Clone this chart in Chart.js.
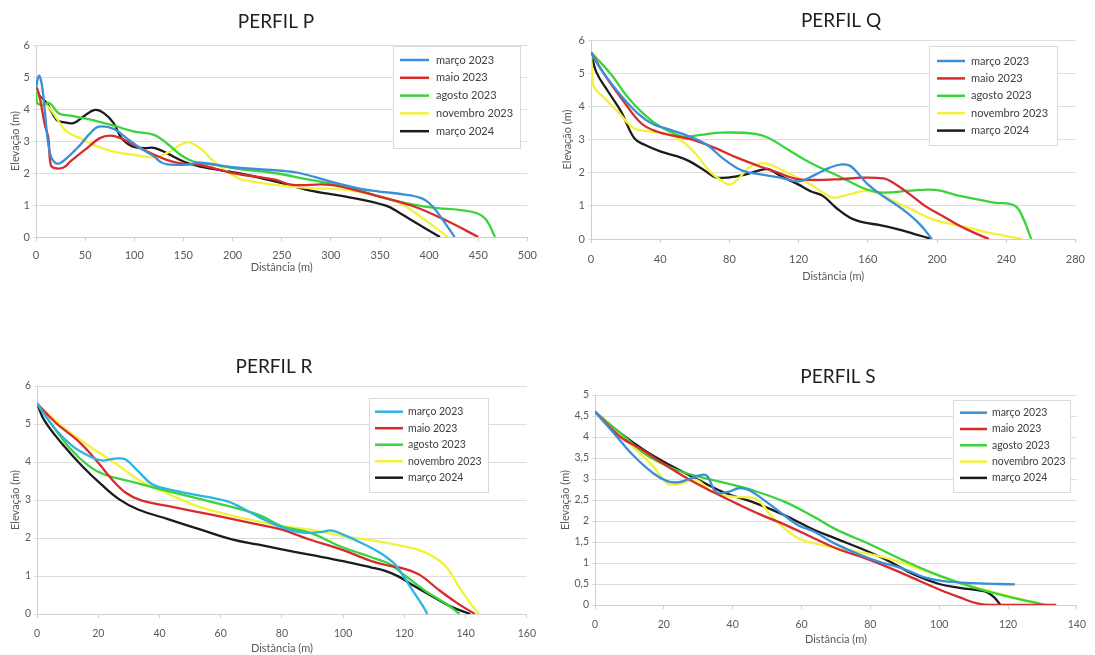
<!DOCTYPE html>
<html>
<head>
<meta charset="utf-8">
<script src="https://cdn.jsdelivr.net/npm/chart.js@4.4.0/dist/chart.umd.min.js"></script>
<style>
  body { margin: 0; background: #fff; width: 1095px; height: 655px; overflow: hidden; position: relative; }
  canvas { position: absolute; }
</style>
</head>
<body>
<canvas id="chartP" width="545" height="280" style="left:0;top:0"></canvas>
<canvas id="chartQ" width="550" height="290" style="left:545px;top:0"></canvas>
<canvas id="chartR" width="545" height="310" style="left:0;top:345px"></canvas>
<canvas id="chartS" width="550" height="310" style="left:545px;top:345px"></canvas>
<script>
// survey dates, one line per campaign
const SERIES_LABELS = ['março 2023', 'maio 2023', 'agosto 2023', 'novembro 2023', 'março 2024'];

// [distância (m), elevação (m)]
const P_MAR23 = [[0,4.65],[3,5.04],[6,4.75],[9,3.92],[12.6,2.88],[16,2.46],[22,2.29],[31,2.46],[45,2.88],[55,3.24],[64,3.45],[79,3.38],[92,3.09],[106,2.78],[120,2.52],[127,2.34],[134,2.27],[154,2.26],[167,2.32],[200,2.18],[250,2.07],[268,2.0],[299,1.74],[331,1.5],[349,1.42],[377,1.32],[395,1.17],[405,0.9],[416,0.44],[426,0]];
const P_MAI23 = [[0,4.67],[1,4.65],[4,4.33],[9,3.5],[12.6,3.09],[15,2.26],[19.4,2.15],[28,2.17],[35,2.36],[52,2.78],[65,3.09],[75.5,3.17],[86,3.09],[99,2.88],[113,2.67],[133,2.41],[147,2.3],[167,2.25],[200,2.0],[243,1.79],[261,1.63],[299,1.63],[331,1.42],[349,1.27],[384,0.96],[419,0.49],[450,0]];
const P_AGO23 = [[0,4.54],[1,4.2],[6,4.13],[14,4.18],[23,3.87],[35,3.79],[52,3.69],[79,3.48],[99,3.3],[120,3.19],[133,2.93],[147,2.57],[160,2.36],[181,2.26],[205,2.13],[243,2.0],[278,1.79],[314,1.58],[349,1.27],[384,1.01],[409,0.9],[430,0.85],[448,0.75],[458,0.54],[467,0]];
const P_NOV23 = [[0,4.6],[4,4.33],[14,4.02],[21,3.71],[31,3.3],[45,3.09],[58.5,2.88],[79,2.67],[99,2.57],[120,2.49],[133,2.62],[147,2.88],[155,2.96],[167,2.78],[181,2.36],[205,1.84],[215,1.76],[243,1.63],[278,1.53],[314,1.48],[349,1.27],[370,1.06],[391,0.64],[419,0]];
const P_MAR24 = [[0,4.67],[4,4.39],[11,4.18],[21,3.66],[28,3.59],[38,3.56],[48,3.76],[60,3.97],[69,3.87],[79,3.56],[87,3.09],[98,2.83],[110,2.78],[121,2.78],[133,2.62],[150,2.36],[167,2.2],[205,2.0],[243,1.74],[278,1.46],[314,1.27],[356,0.98],[370,0.75],[384,0.49],[411,0]];

const Q_MAR23 = [[0,5.63],[4,5.25],[15.5,4.44],[27,3.79],[36,3.46],[46,3.29],[57,3.09],[67,2.84],[76,2.44],[87.5,2.06],[99,1.94],[110,1.84],[120,1.74],[130,1.95],[138,2.15],[145,2.25],[150,2.2],[160,1.65],[170,1.25],[180,0.9],[190,0.45],[197,0]];
const Q_MAI23 = [[0,5.63],[8,4.94],[19,4.14],[29,3.49],[38,3.24],[50,3.09],[59,2.99],[72,2.74],[84,2.46],[95,2.24],[106,2.04],[118,1.82],[127,1.78],[143,1.8],[157,1.85],[169,1.83],[173,1.75],[183,1.4],[193,1.0],[203,0.7],[213,0.4],[221,0.2],[230,0]];
const Q_AGO23 = [[0,5.63],[12,4.94],[21,4.29],[31,3.74],[40,3.39],[53,3.09],[63,3.14],[76,3.21],[95,3.17],[103,3.04],[114,2.69],[127,2.29],[143,1.9],[159,1.5],[169,1.4],[183,1.45],[199,1.48],[213,1.3],[233,1.1],[245,1.0],[250,0.6],[253,0.2],[254.5,0]];
const Q_NOV23 = [[0,5.63],[1.3,4.64],[8,4.24],[15.5,3.84],[25,3.34],[34.5,3.24],[46,3.14],[53,2.94],[61,2.54],[68.6,2.04],[76,1.74],[80,1.64],[85.6,1.84],[91,2.14],[99,2.29],[106,2.19],[114,1.99],[127,1.64],[134,1.4],[140,1.25],[146,1.3],[158,1.45],[165,1.4],[173,1.2],[185,0.9],[197,0.6],[213,0.4],[229,0.2],[249,0]];
const Q_MAR24 = [[0,5.63],[3,5.04],[10,4.44],[17.4,3.84],[25,3.04],[31,2.84],[40,2.64],[50,2.49],[57,2.34],[65,2.09],[72,1.86],[80,1.86],[89,1.94],[99,2.09],[103,2.1],[110,1.89],[120,1.64],[127,1.44],[134,1.3],[141.5,0.95],[149.5,0.65],[157.5,0.5],[167,0.42],[177,0.3],[187,0.15],[197,0]];

const R_MAR23 = [[0,5.54],[6,4.86],[11.6,4.42],[17,4.16],[21,4.04],[25.6,4.09],[28.8,4.07],[33,3.76],[37.4,3.43],[43,3.28],[51,3.15],[62,2.97],[67,2.79],[73,2.53],[80,2.28],[87,2.14],[93,2.16],[96,2.2],[100,2.09],[107,1.83],[112,1.61],[117,1.3],[120,0.95],[123.6,0.51],[126.4,0.16],[127.5,0]];
const R_MAI23 = [[0,5.54],[6,5.04],[14,4.51],[20,3.98],[24.5,3.54],[29,3.19],[34,2.99],[43,2.84],[51,2.71],[62,2.53],[72,2.36],[80,2.22],[89,1.96],[100,1.68],[109,1.4],[115,1.27],[120,1.19],[125,1.03],[131,0.65],[137,0.3],[143,0]];
const R_AGO23 = [[0,5.54],[4,5.08],[10.5,4.38],[17,3.89],[22,3.67],[30,3.5],[38.5,3.32],[47,3.15],[58,2.93],[72,2.62],[80,2.31],[89,2.14],[100,1.75],[109,1.5],[115,1.32],[120,1.02],[127,0.6],[134,0.25],[138,0]];
const R_NOV23 = [[0,5.54],[8,4.95],[17,4.42],[26,3.94],[33,3.54],[41,3.23],[51,2.88],[62,2.62],[72,2.44],[80,2.31],[89,2.22],[100,2.05],[111,1.92],[120,1.78],[126,1.65],[130,1.48],[134,1.21],[138,0.69],[141.5,0.29],[144.3,0]];
const R_MAR24 = [[0,5.54],[2.5,5.08],[8.4,4.46],[14.8,3.89],[21,3.41],[27,3.01],[33,2.75],[43,2.49],[53.5,2.22],[64,1.96],[72,1.83],[80,1.7],[89,1.56],[100,1.39],[109,1.23],[113.5,1.14],[118,0.99],[122.5,0.77],[129,0.47],[135,0.2],[141.5,0]];

const S_MAR23 = [[0,4.6],[5.5,4.09],[11,3.57],[17,3.13],[21,2.95],[24,2.92],[27.4,3.0],[31,3.1],[32.7,3.06],[34.6,2.74],[36,2.66],[39,2.7],[41.7,2.78],[44.6,2.74],[48.4,2.54],[53,2.26],[59,1.9],[63.6,1.75],[70,1.45],[80,1.1],[90,0.85],[96,0.65],[102,0.56],[110,0.52],[122,0.49]];
const S_MAI23 = [[0,4.6],[7.4,4.0],[13,3.73],[19,3.41],[26.5,3.03],[34,2.7],[41,2.42],[48.4,2.14],[55,1.92],[63.6,1.59],[70,1.35],[80,1.07],[90,0.73],[100,0.37],[106,0.18],[111,0.04],[116,0],[134,0]];
const S_AGO23 = [[0,4.6],[7.4,4.09],[15,3.57],[22.7,3.25],[30,3.06],[38,2.9],[45.5,2.74],[55,2.46],[63.6,2.1],[70,1.8],[80,1.44],[90,1.05],[100,0.7],[110,0.42],[120,0.2],[131,0]];
const S_NOV23 = [[0,4.6],[5.5,4.2],[12,3.69],[17,3.29],[20.8,2.9],[22.7,2.86],[25.5,2.9],[29.3,2.98],[34,2.7],[40,2.58],[44.6,2.56],[47.4,2.5],[51,2.14],[54,1.9],[59,1.59],[63.6,1.47],[70,1.36],[80,1.21],[86,1.09],[96,0.81],[106,0.53],[116,0.3],[130.5,0]];
const S_MAR24 = [[0,4.6],[7.4,4.09],[15,3.65],[22.7,3.29],[30,2.98],[38,2.66],[45.5,2.46],[55,2.14],[63.6,1.79],[70,1.58],[80,1.25],[86,1.02],[92,0.75],[100,0.5],[106,0.41],[112,0.34],[114,0.3],[116,0.18],[117.8,0]];

const COLORS = ['#3b8ed8', '#d92b2b', '#3ad43a', '#f2f23c', '#1c1c1c'];
const COLORS_R = ['#2cb5e0', '#d92b2b', '#3ad43a', '#f2f23c', '#1c1c1c'];

Chart.defaults.font.family = 'Lato, "Open Sans", sans-serif';
Chart.defaults.color = '#595959';

// title + boxed legend drawn inside the plot, Excel style
const panelDecor = {
  id: 'panelDecor',
  afterDatasetsDraw(chart, args, o) {
    const ctx = chart.ctx;
    const lg = o.legend;
    ctx.save();
    ctx.fillStyle = '#fff';
    ctx.fillRect(lg.x, lg.y, lg.w, lg.h);
    ctx.strokeStyle = '#d9d9d9';
    ctx.lineWidth = 1;
    ctx.strokeRect(lg.x + 0.5, lg.y + 0.5, lg.w, lg.h);
    ctx.font = lg.font + 'px Lato';
    ctx.textBaseline = 'middle';
    ctx.textAlign = 'left';
    chart.data.datasets.forEach((ds, i) => {
      const y = lg.y + lg.first + i * lg.step;
      ctx.strokeStyle = ds.borderColor;
      ctx.lineWidth = 2.5;
      ctx.beginPath();
      ctx.moveTo(lg.lineX, y);
      ctx.lineTo(lg.lineX + lg.lineW, y);
      ctx.stroke();
      ctx.fillStyle = '#404040';
      ctx.fillText(ds.label, lg.textX, y);
    });
    ctx.font = '19px Lato';
    ctx.textAlign = 'center';
    ctx.fillStyle = '#1f1f1f';
    ctx.fillText(o.title, o.titleX, o.titleY);
    ctx.restore();
  }
};

// everything below in page pixels
const PANELS = [
  {id: 'chartP', box: {l: 0, t: 0, w: 545, h: 280}, area: {l: 36, t: 45, r: 531, b: 237},
   title: 'PERFIL P', titleX: 276, titleY: 22, xMax: 500, xStep: 50, yMax: 6, yStep: 1,
   xTitleY: 267, yTitleX: 15, xLabelGap: 8, font: 11, colors: COLORS,
   series: [P_MAR23, P_MAI23, P_AGO23, P_NOV23, P_MAR24],
   legend: {x: 393, y: 46, w: 127, h: 102, lineX: 400, lineW: 29, textX: 436, first: 14, step: 17.8, font: 11}},
  {id: 'chartQ', box: {l: 545, t: 0, w: 550, h: 290}, area: {l: 591, t: 40, r: 1082, b: 239},
   title: 'PERFIL Q', titleX: 841, titleY: 21, xMax: 280, xStep: 40, yMax: 6, yStep: 1,
   xTitleY: 276, yTitleX: 567, xLabelGap: 10, font: 11, colors: COLORS,
   series: [Q_MAR23, Q_MAI23, Q_AGO23, Q_NOV23, Q_MAR24],
   legend: {x: 929, y: 46, w: 128, h: 99, lineX: 937, lineW: 28, textX: 971, first: 15, step: 17.4, font: 11}},
  {id: 'chartR', box: {l: 0, t: 345, w: 545, h: 310}, area: {l: 37, t: 386, r: 531, b: 614},
   title: 'PERFIL R', titleX: 274, titleY: 367, xMax: 160, xStep: 20, yMax: 6, yStep: 1,
   xTitleY: 648, yTitleX: 15, xLabelGap: 9, font: 10.5, colors: COLORS_R,
   series: [R_MAR23, R_MAI23, R_AGO23, R_NOV23, R_MAR24],
   legend: {x: 369, y: 398, w: 119, h: 94, lineX: 375, lineW: 28, textX: 408, first: 13.7, step: 16.5, font: 10.5}},
  {id: 'chartS', box: {l: 545, t: 345, w: 550, h: 310}, area: {l: 595, t: 395, r: 1084, b: 605},
   title: 'PERFIL S', titleX: 838, titleY: 377, xMax: 140, xStep: 20, yMax: 5, yStep: 0.5,
   xTitleY: 639, yTitleX: 565, xLabelGap: 9, font: 10.5, colors: COLORS,
   series: [S_MAR23, S_MAI23, S_AGO23, S_NOV23, S_MAR24],
   legend: {x: 953, y: 400, w: 117, h: 92, lineX: 960, lineW: 27, textX: 992, first: 12.7, step: 16.3, font: 10.5}}
];

function buildPanel(p) {
  const b = p.box;
  const datasets = p.series.map((pts, i) => ({
    label: SERIES_LABELS[i],
    data: pts.map(([x, y]) => ({x, y})),
    borderColor: p.colors[i],
    backgroundColor: p.colors[i],
    borderWidth: 2.3,
    pointRadius: 0,
    showLine: true,
    tension: 0.4,
    fill: false
  }));
  const lg = p.legend;
  const xAxisH = b.h - (p.area.b - b.t);
  const yAxisW = p.area.l - b.l;
  new Chart(document.getElementById(p.id), {
    type: 'scatter',
    data: {datasets},
    plugins: [panelDecor],
    options: {
      responsive: false,
      animation: false,
      layout: {padding: {top: p.area.t - b.t, right: b.l + b.w - p.area.r, left: 0, bottom: 0}},
      plugins: {
        legend: {display: false},
        tooltip: {enabled: false},
        panelDecor: {
          title: p.title, titleX: p.titleX - b.l, titleY: p.titleY - b.t,
          legend: {x: lg.x - b.l, y: lg.y - b.t, w: lg.w, h: lg.h, lineX: lg.lineX - b.l, lineW: lg.lineW,
                   textX: lg.textX - b.l, first: lg.first, step: lg.step, font: lg.font}
        }
      },
      scales: {
        x: {
          type: 'linear', min: 0, max: p.xMax,
          afterFit: s => { s.height = xAxisH; },
          ticks: {stepSize: p.xStep, autoSkip: false, maxRotation: 0, padding: p.xLabelGap, font: {size: p.font}},
          grid: {drawOnChartArea: false, drawTicks: true, tickLength: 4, color: '#d0d0d0'},
          border: {color: '#cfcfcf'},
          title: {display: true, text: 'Distância (m)', font: {size: 11},
                  padding: {top: 0, bottom: b.h - (p.xTitleY - b.t) - 6.6}}
        },
        y: {
          min: 0, max: p.yMax,
          afterFit: s => { s.width = yAxisW; },
          ticks: {stepSize: p.yStep, padding: 3, font: {size: p.font},
                  callback: v => String(v).replace('.', ',')},
          grid: {color: '#dedede', tickLength: 3},
          border: {color: '#cfcfcf'},
          title: {display: true, text: 'Elevação (m)', font: {size: 11},
                  padding: {top: p.yTitleX - b.l - 6.6, bottom: 0}}
        }
      }
    }
  });
}

PANELS.forEach(buildPanel);
</script>
</body>
</html>
